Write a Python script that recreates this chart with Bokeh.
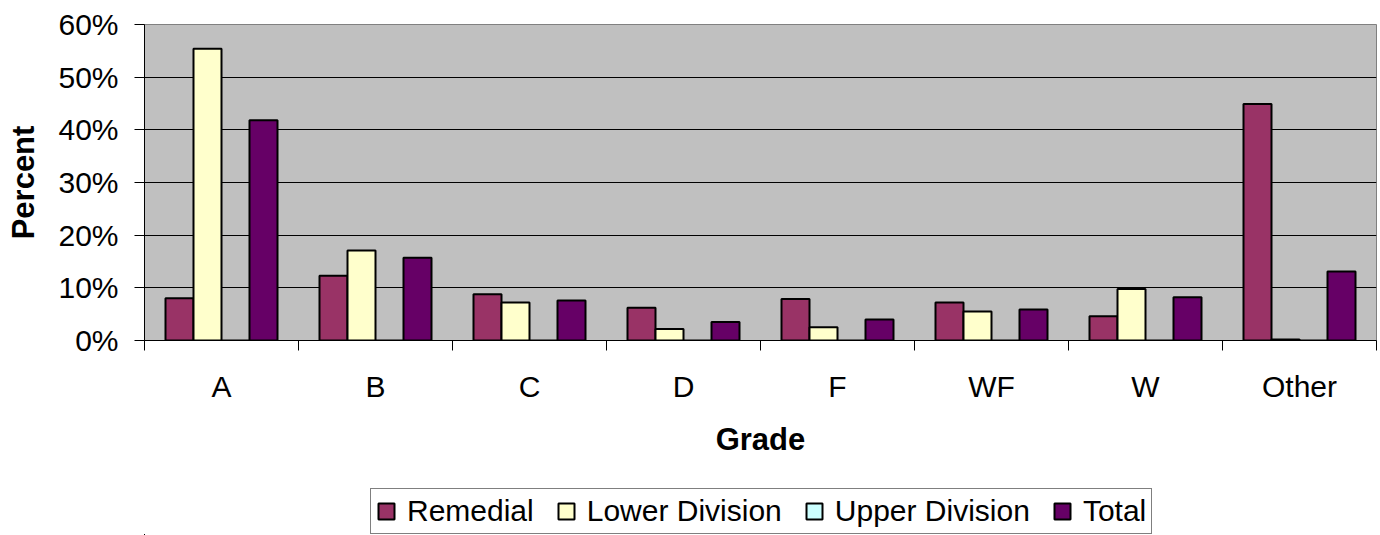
from bokeh.plotting import figure
from bokeh.layouts import column
from bokeh.models import (ColumnDataSource, FixedTicker, NumeralTickFormatter,
                          Legend, LegendItem, Range1d)
from bokeh.embed import file_html
from bokeh.resources import INLINE

# ---- data ----
grades = ["A", "B", "C", "D", "F", "WF", "W", "Other"]
remedial = [0.080, 0.123, 0.088, 0.062, 0.079, 0.072, 0.046, 0.449]
lower_division = [0.554, 0.171, 0.072, 0.022, 0.025, 0.055, 0.098, 0.002]
upper_division = [0.0, 0.0, 0.0, 0.0, 0.0, 0.0, 0.0, 0.0]
total = [0.418, 0.157, 0.076, 0.035, 0.040, 0.059, 0.082, 0.131]
series_names = ["Remedial", "Lower Division", "Upper Division", "Total"]
series_values = [remedial, lower_division, upper_division, total]
y_tick_values = [0.0, 0.1, 0.2, 0.3, 0.4, 0.5, 0.6]

# ---- styles ----
colors = ["#993366", "#FFFFCC", "#CCFFFF", "#660066"]
FONT = "Liberation Sans"
bar_w = 1 / 5.5
offsets = [-1.5 * bar_w, -0.5 * bar_w, 0.5 * bar_w, 1.5 * bar_w]

p = figure(frame_width=1232, frame_height=316, output_backend="svg",
           toolbar_location=None,
           x_range=Range1d(0, len(grades)), y_range=Range1d(0, 0.6),
           min_border_left=144, min_border_right=4, min_border_top=24,
           min_border_bottom=140)
p.background_fill_color = "#C0C0C0"
p.border_fill_color = "white"
p.outline_line_color = "#808080"
p.outline_line_width = 1

# legend strip below the chart
lg = figure(frame_width=1380, frame_height=55, output_backend="svg",
            toolbar_location=None, x_axis_location=None, y_axis_location=None,
            x_range=Range1d(100, 101), y_range=Range1d(100, 101),
            min_border_left=0, min_border_right=0, min_border_top=0,
            min_border_bottom=0)
lg.outline_line_color = None
lg.background_fill_color = "white"
lg.border_fill_color = "white"
lg.grid.visible = False

items = []
for name, vals, col, off in zip(series_names, series_values, colors, offsets):
    src = ColumnDataSource(dict(x=[i + 0.5 + off for i in range(len(grades))],
                                top=vals))
    p.vbar(x="x", top="top", width=bar_w, bottom=0, source=src,
           fill_color=col, line_color="black", line_width=2)
    r2 = lg.vbar(x="x", top="top", width=bar_w, bottom=0, source=src,
                 fill_color=col, line_color="black", line_width=2)
    items.append(LegendItem(label=name, renderers=[r2]))

# x axis: labels at centres, ticks at category boundaries
xa = p.xaxis[0]
xa.ticker = FixedTicker(ticks=[i + 0.5 for i in range(len(grades))],
                        minor_ticks=list(range(len(grades) + 1)))
xa.major_label_overrides = {i + 0.5: g for i, g in enumerate(grades)}
xa.major_tick_line_color = None
xa.major_tick_out = 10
xa.major_tick_in = 0
xa.minor_tick_out = 10
xa.minor_tick_in = 0
xa.minor_tick_line_color = "black"
xa.axis_line_color = "black"
xa.major_label_text_font = FONT
xa.major_label_text_font_size = "30px"
xa.major_label_text_color = "black"
xa.major_label_standoff = 19
xa.axis_label = "Grade"
xa.axis_label_text_font = FONT
xa.axis_label_text_font_size = "31px"
xa.axis_label_text_font_style = "bold"
xa.axis_label_text_color = "black"
xa.axis_label_standoff = 16

ya = p.yaxis[0]
ya.ticker = FixedTicker(ticks=y_tick_values, minor_ticks=[])
ya.formatter = NumeralTickFormatter(format="0%")
ya.major_tick_out = 10
ya.major_tick_in = 0
ya.major_tick_line_color = "black"
ya.axis_line_color = "black"
ya.major_label_text_font = FONT
ya.major_label_text_font_size = "30px"
ya.major_label_text_color = "black"
ya.major_label_standoff = 16
ya.axis_label = "Percent"
ya.axis_label_text_font = FONT
ya.axis_label_text_font_size = "31px"
ya.axis_label_text_font_style = "bold"
ya.axis_label_text_color = "black"
ya.axis_label_standoff = 14

p.xgrid.visible = False
p.ygrid.ticker = FixedTicker(ticks=y_tick_values, minor_ticks=[])
p.ygrid.grid_line_color = "black"
p.ygrid.grid_line_width = 1

legend = Legend(items=items, orientation="horizontal", location=(370, 1),
                label_text_font=FONT, label_text_font_size="30px",
                label_text_color="black",
                glyph_width=20, glyph_height=20, label_standoff=11,
                spacing=22, padding=5, margin=0,
                border_line_color="black", border_line_width=1,
                background_fill_color="white", background_fill_alpha=1)
lg.add_layout(legend, "center")

layout = column(p, lg, spacing=0)
open("out.html", "w").write(file_html(layout, INLINE))
